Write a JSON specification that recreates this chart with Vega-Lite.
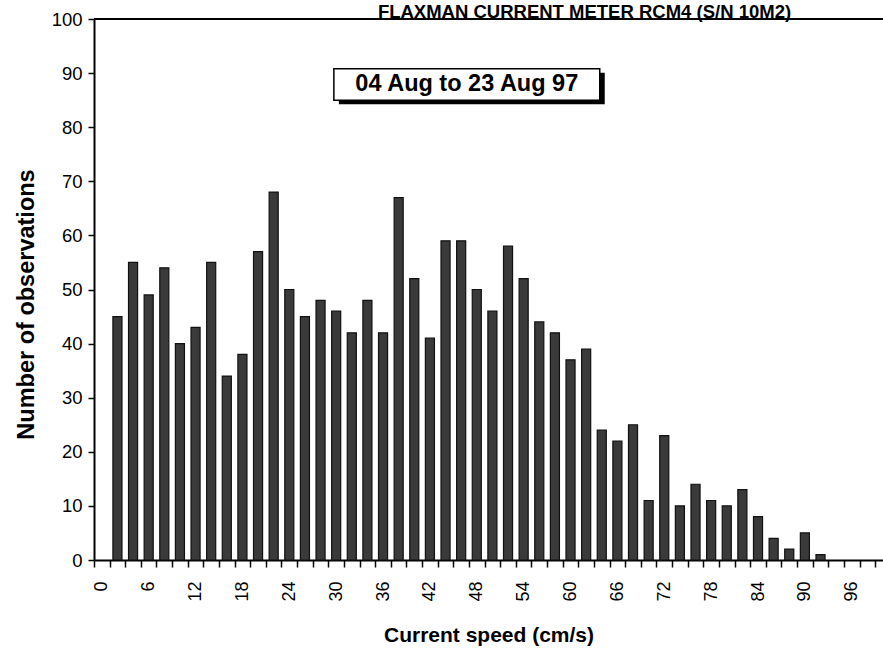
{
  "$schema": "https://vega.github.io/schema/vega-lite/v6.json",
  "width": 789,
  "height": 541,
  "autosize": {"type": "none"},
  "padding": {"left": 94, "top": 19, "right": 0, "bottom": 92},
  "background": "white",
  "config": {
    "view": {"stroke": null},
    "font": "Liberation Sans",
    "axis": {"labelColor": "black", "titleColor": "black", "domainColor": "black", "tickColor": "black", "grid": false, "labelFont": "Liberation Sans", "titleFont": "Liberation Sans"}
  },
  "title": {
    "text": "FLAXMAN CURRENT METER RCM4 (S/N 10M2)",
    "fontSize": 18.5,
    "fontWeight": "bold",
    "font": "Liberation Sans",
    "color": "black",
    "anchor": "middle",
    "dx": 96,
    "dy": 26,
    "baseline": "alphabetic",
    "offset": 0
  },
  "data": {
    "values": [
      {"speed": 2, "count": 45}, {"speed": 4, "count": 55}, {"speed": 6, "count": 49}, {"speed": 8, "count": 54},
      {"speed": 10, "count": 40}, {"speed": 12, "count": 43}, {"speed": 14, "count": 55}, {"speed": 16, "count": 34},
      {"speed": 18, "count": 38}, {"speed": 20, "count": 57}, {"speed": 22, "count": 68}, {"speed": 24, "count": 50},
      {"speed": 26, "count": 45}, {"speed": 28, "count": 48}, {"speed": 30, "count": 46}, {"speed": 32, "count": 42},
      {"speed": 34, "count": 48}, {"speed": 36, "count": 42}, {"speed": 38, "count": 67}, {"speed": 40, "count": 52},
      {"speed": 42, "count": 41}, {"speed": 44, "count": 59}, {"speed": 46, "count": 59}, {"speed": 48, "count": 50},
      {"speed": 50, "count": 46}, {"speed": 52, "count": 58}, {"speed": 54, "count": 52}, {"speed": 56, "count": 44},
      {"speed": 58, "count": 42}, {"speed": 60, "count": 37}, {"speed": 62, "count": 39}, {"speed": 64, "count": 24},
      {"speed": 66, "count": 22}, {"speed": 68, "count": 25}, {"speed": 70, "count": 11}, {"speed": 72, "count": 23},
      {"speed": 74, "count": 10}, {"speed": 76, "count": 14}, {"speed": 78, "count": 11}, {"speed": 80, "count": 10},
      {"speed": 82, "count": 13}, {"speed": 84, "count": 8}, {"speed": 86, "count": 4}, {"speed": 88, "count": 2},
      {"speed": 90, "count": 5}, {"speed": 92, "count": 1}
    ]
  },
  "layer": [
    {
      "mark": {"type": "bar", "width": {"band": 0.58}, "fill": "#3a3a3a", "stroke": "#111111", "strokeWidth": 1.2},
      "encoding": {
        "x": {
          "field": "speed",
          "type": "ordinal",
          "scale": {
            "domain": [0,2,4,6,8,10,12,14,16,18,20,22,24,26,28,30,32,34,36,38,40,42,44,46,48,50,52,54,56,58,60,62,64,66,68,70,72,74,76,78,80,82,84,86,88,90,92,94,96,98],
            "paddingInner": 0,
            "paddingOuter": 0.25,
            "align": 0
          },
          "axis": {
            "title": "Current speed (cm/s)",
            "titleFontSize": 21,
            "titleFontWeight": "bold",
            "titlePadding": 23,
            "labelAngle": -90,
            "labelFontSize": 18,
            "labelPadding": 14,
            "labelExpr": "datum.value % 6 == 0 ? datum.label : ''",
            "tickBand": "extent",
            "tickSize": 7,
            "tickWidth": 1.5,
            "domainWidth": 2
          }
        },
        "y": {
          "field": "count",
          "type": "quantitative",
          "scale": {"domain": [0, 100]},
          "axis": {
            "title": "Number of observations",
            "titleFontSize": 23.5,
            "titleFontWeight": "bold",
            "titlePadding": 13,
            "titleY": 285,
            "values": [0,10,20,30,40,50,60,70,80,90,100],
            "labelFontSize": 18.5,
            "labelPadding": 6,
            "tickSize": 6,
            "tickWidth": 1.5,
            "domainWidth": 2
          }
        }
      }
    },
    {
      "data": {"values": [{}]},
      "mark": {"type": "rule", "color": "black", "strokeWidth": 2},
      "encoding": {"y": {"datum": 100, "type": "quantitative"}}
    },
    {
      "data": {"values": [{}]},
      "mark": {"type": "rect", "fill": "black", "xOffset": 5, "x2Offset": 5, "yOffset": 4, "y2Offset": 4},
      "encoding": {
        "x": {"datum": 30.4, "type": "quantitative", "scale": {"domain": [0, 100]}, "axis": null},
        "x2": {"datum": 64.1},
        "y": {"datum": 85.0, "type": "quantitative"},
        "y2": {"datum": 90.8}
      }
    },
    {
      "data": {"values": [{}]},
      "mark": {"type": "rect", "fill": "white", "stroke": "black", "strokeWidth": 1.5},
      "encoding": {
        "x": {"datum": 30.4, "type": "quantitative", "scale": {"domain": [0, 100]}, "axis": null},
        "x2": {"datum": 64.1},
        "y": {"datum": 85.0, "type": "quantitative"},
        "y2": {"datum": 90.8}
      }
    },
    {
      "data": {"values": [{}]},
      "mark": {"type": "text", "fontSize": 23.5, "fontWeight": "bold", "font": "Liberation Sans", "color": "black", "align": "center", "baseline": "middle"},
      "encoding": {
        "x": {"datum": 47.25, "type": "quantitative", "scale": {"domain": [0, 100]}, "axis": null},
        "y": {"datum": 87.9, "type": "quantitative"},
        "text": {"value": "04 Aug to 23 Aug 97"}
      }
    }
  ],
  "resolve": {"scale": {"x": "independent"}}
}
